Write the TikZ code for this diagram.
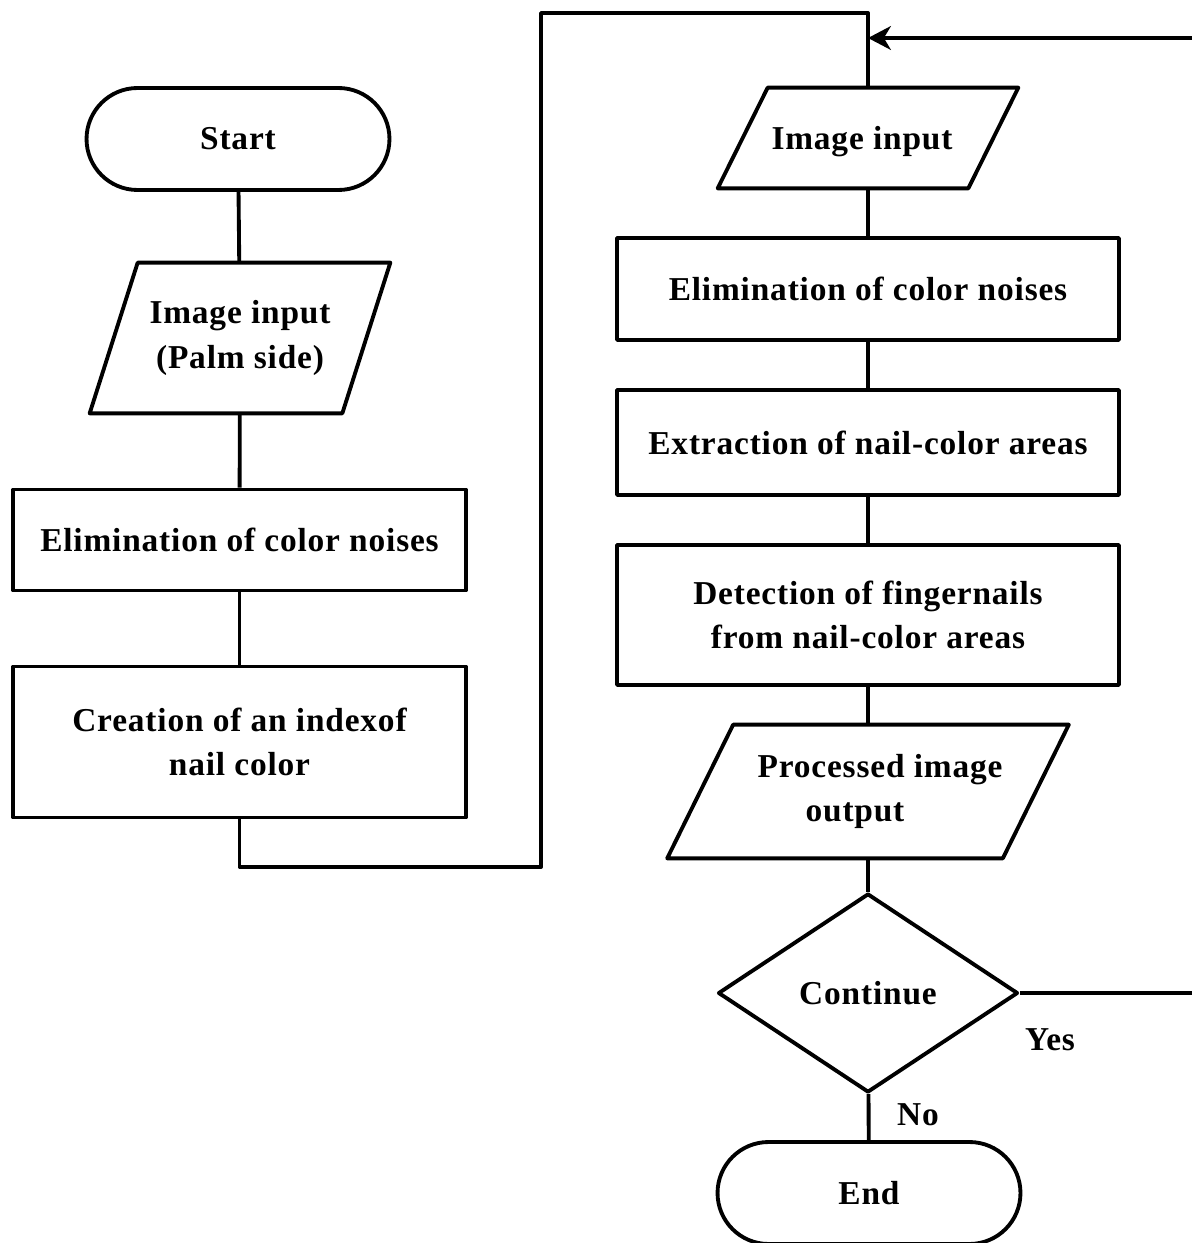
\documentclass[tikz,border=0pt]{standalone}
\usepackage{fontspec}
\setmainfont[LetterSpace=2.5]{Liberation Serif}
\usetikzlibrary{shapes.geometric,shapes.misc,arrows.meta}

% parallelogram outline around a (hidden) rectangular node
\newcommand{\ioshape}[2]{%
  \draw[flow] ([xshift=#2]#1.north west) -- ([xshift=#2]#1.north east)
    -- ([xshift=-#2]#1.south east) -- ([xshift=-#2]#1.south west) -- cycle;}

\begin{document}
\begin{tikzpicture}[x=0.02cm,y=-0.02cm,
  flow/.style={line width=2.2pt, line join=round},
  txt/.style={font=\fontsize{19}{25.5}\selectfont\bfseries, align=center},
  term/.style={txt, rounded rectangle, draw, flow, inner sep=0pt,
               minimum width=6.06cm, minimum height=2.04cm},
  io/.style={txt, rectangle, inner sep=0pt},
  proc/.style={txt, rectangle, draw, flow, inner sep=0pt},
  decision/.style={txt, diamond, draw, flow, inner sep=0pt,
                   minimum width=6cm, minimum height=3.98cm},
  lbl/.style={font=\fontsize{19}{25.5}\selectfont\bfseries}]

\useasboundingbox (0,0) rectangle (1192,1243);

% left column
\node[term] (start) at (238,139) {Start};
\node[io, minimum width=5.04cm, minimum height=3.0cm] (in1) at (240,338)
  {Image input\\(Palm side)};
\ioshape{in1}{0.48cm}
\node[proc, minimum width=9.06cm, minimum height=2.02cm] (noise1) at (239.5,540)
  {Elimination of color noises};
\node[proc, minimum width=9.06cm, minimum height=3.02cm] (index) at (239.5,742)
  {Creation of an indexof\\nail color};

% right column
\node[io, minimum width=5.0cm, minimum height=2.0cm,
      text height=17.6pt, text depth=4pt] (in2) at (868,138)
  {Image input\hspace*{0.24cm}};
\ioshape{in2}{0.5cm}
\node[proc, minimum width=10.04cm, minimum height=2.04cm] (noise2) at (868,289)
  {Elimination of color noises};
\node[proc, minimum width=10.04cm, minimum height=2.1cm] (extract) at (868,442.5)
  {Extraction of nail-color areas};
\node[proc, minimum width=10.04cm, minimum height=2.8cm] (detect) at (868,615)
  {Detection of fingernails\\from nail-color areas};
\node[io, minimum width=6.7cm, minimum height=2.66cm] (out) at (868,791.5)
  {\hspace*{0.48cm}Processed image\\output\hspace*{0.52cm}};
\ioshape{out}{0.66cm}
\node[decision] (dec) at (868,993) {Continue};
\node[term] (finish) at (869,1193) {End};

\node[lbl] (yes) at (1050,1040) {Yes};
\node[lbl] (no) at (918,1115) {No};

% connectors
\draw[flow] (start) -- (in1);
\draw[flow] (in1) -- (noise1);
\draw[flow] (noise1) -- (index);

\coordinate (turnA) at (541,867);
\coordinate (turnB) at (541,13);
\draw[flow] (index.south) |- (turnA) -- (turnB) -| (in2.north);

\draw[flow] (in2) -- (noise2);
\draw[flow] (noise2) -- (extract);
\draw[flow] (extract) -- (detect);
\draw[flow] (detect) -- (out);
\draw[flow] (out) -- (dec);
\draw[flow] (dec) -- (finish);

\coordinate (yesR) at (1192,993);
\coordinate (backR) at (1192,38);
\draw[flow] (dec.east) -- (yesR);
\draw[flow, -{Stealth[length=13pt, width=13.5pt, inset=4pt]}]
  (backR) -- (in2.north |- backR);
\end{tikzpicture}
\end{document}
